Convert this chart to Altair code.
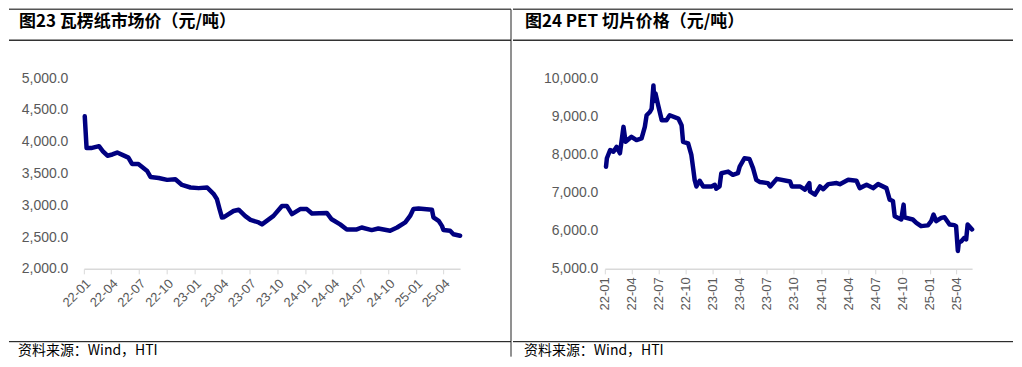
import altair as alt
import pandas as pd

# ---------------- data ----------------
paper_dates = [
    "2022-01-04", "2022-01-10", "2022-01-25", "2022-02-10", "2022-02-20", "2022-03-05",
    "2022-03-20", "2022-04-05", "2022-04-21", "2022-05-10", "2022-05-28", "2022-06-09",
    "2022-06-30", "2022-07-29", "2022-08-09", "2022-09-05", "2022-10-03", "2022-10-30",
    "2022-11-21", "2022-12-19", "2023-01-15", "2023-02-12", "2023-03-05", "2023-03-16",
    "2023-03-25", "2023-04-02", "2023-04-07", "2023-05-10", "2023-05-27", "2023-06-18",
    "2023-07-05", "2023-08-01", "2023-08-12", "2023-09-19", "2023-10-17", "2023-11-02",
    "2023-11-19", "2023-12-16", "2024-01-07", "2024-01-24", "2024-03-13", "2024-03-29",
    "2024-04-26", "2024-05-18", "2024-06-20", "2024-07-06", "2024-08-08", "2024-08-30",
    "2024-10-08", "2024-10-31", "2024-11-27", "2024-12-13", "2024-12-24", "2025-01-10",
    "2025-02-23", "2025-02-28", "2025-03-17", "2025-03-28", "2025-04-02", "2025-04-24",
    "2025-05-05", "2025-05-27",
]
paper_values = [
    4400, 3900, 3900, 3920, 3930, 3850,
    3780, 3800, 3830, 3790, 3750, 3650,
    3650, 3540, 3446, 3430, 3400, 3410,
    3320, 3280, 3270, 3280, 3180, 3100,
    2940, 2807, 2810, 2910, 2930, 2830,
    2770, 2730, 2700, 2833, 2990, 2990,
    2860, 2940, 2940, 2870, 2880, 2780,
    2700, 2620, 2620, 2650, 2610, 2635,
    2600, 2650, 2730, 2833, 2940, 2950,
    2930, 2810, 2755, 2676, 2610, 2600,
    2545, 2520,
]

pet_dates = [
    "2022-01-05", "2022-01-08", "2022-01-19", "2022-01-30", "2022-02-10", "2022-02-21",
    "2022-03-05", "2022-03-12", "2022-04-01", "2022-04-18", "2022-05-05", "2022-05-16",
    "2022-05-22", "2022-06-02", "2022-06-08", "2022-06-14", "2022-06-17", "2022-06-21",
    "2022-06-30", "2022-07-12", "2022-07-28", "2022-08-08", "2022-09-06", "2022-09-17",
    "2022-09-22", "2022-10-09", "2022-10-20", "2022-10-26", "2022-10-31", "2022-11-06",
    "2022-11-17", "2022-11-29", "2022-12-27", "2023-01-07", "2023-01-12", "2023-01-23",
    "2023-01-29", "2023-02-21", "2023-03-09", "2023-03-26", "2023-04-01", "2023-04-17",
    "2023-05-04", "2023-05-16", "2023-05-27", "2023-06-07", "2023-07-05", "2023-07-13",
    "2023-08-04", "2023-09-18", "2023-09-24", "2023-10-22", "2023-11-07", "2023-11-22",
    "2023-11-24", "2023-12-11", "2023-12-28", "2024-01-08", "2024-01-25", "2024-02-22",
    "2024-03-04", "2024-04-01", "2024-04-29", "2024-05-10", "2024-06-02", "2024-06-24",
    "2024-07-11", "2024-08-08", "2024-08-19", "2024-08-30", "2024-09-05", "2024-09-27",
    "2024-10-05", "2024-10-08", "2024-11-05", "2024-11-17", "2024-12-03", "2024-12-26",
    "2025-01-06", "2025-01-14", "2025-01-23", "2025-02-09", "2025-02-20", "2025-03-09",
    "2025-03-25", "2025-03-31", "2025-04-06", "2025-04-09", "2025-04-17", "2025-04-28",
    "2025-05-04", "2025-05-09", "2025-05-24",
]
pet_values = [
    7680, 7900, 8117, 8070, 8200, 8030,
    8724, 8333, 8463, 8377, 8420, 8724,
    9028, 9114, 9200, 9810, 9400, 9600,
    9290, 8900, 8900, 9028, 8940, 8767,
    8333, 8290, 7987, 7640, 7335, 7160,
    7310, 7160, 7160, 7205, 7100, 7160,
    7508, 7550, 7465, 7510, 7680, 7900,
    7880, 7640, 7335, 7280, 7248, 7160,
    7360, 7290, 7160, 7160, 7075, 7250,
    7030, 6945, 7160, 7090, 7222, 7250,
    7220, 7335, 7310, 7117, 7205, 7117,
    7222, 7117, 6815, 6780, 6380, 6294,
    6684, 6350, 6294, 6206, 6120, 6140,
    6250, 6424, 6250, 6336, 6354, 6163,
    6146, 6120, 5470, 5685, 5720, 5815,
    5770, 6163, 6034,
]

x_ticks = ["2022-01", "2022-04", "2022-07", "2022-10", "2023-01", "2023-04", "2023-07",
           "2023-10", "2024-01", "2024-04", "2024-07", "2024-10", "2025-01", "2025-04"]
paper_y_ticks = [2000, 2500, 3000, 3500, 4000, 4500, 5000]
pet_y_ticks = [5000, 6000, 7000, 8000, 9000, 10000]

title_left = "图23 瓦楞纸市场价（元/吨）"
title_right = "图24 PET 切片价格（元/吨）"
source_text = "资料来源：Wind，HTI"

# ---------------- helpers ----------------
def dt(s):
    parts = [int(p) for p in s.split("-")]
    if len(parts) == 2:
        parts.append(1)
    return alt.DateTime(year=parts[0], month=parts[1], date=parts[2])

tick_values = [dt(t) for t in x_ticks]

LINE_COLOR = "#000080"
LABEL_COLOR = "#595959"
AXIS_COLOR = "#d9d9d9"

deco_df = pd.DataFrame({"k": [0]})


def panel(dates, values, ydom, yticks, width, xdom_end, angle, lab_pad,
          left_off, right_off, title, divider, text_dx):
    df = pd.DataFrame({"date": pd.to_datetime(dates), "value": values})
    H = 191
    top_y = -69
    line = alt.Chart(df).mark_line(
        color=LINE_COLOR, strokeWidth=4.5, strokeJoin="round", strokeCap="round"
    ).encode(
        x=alt.X("date:T",
                scale=alt.Scale(domain=[dt("2022-01-01"), dt(xdom_end)]),
                axis=alt.Axis(values=tick_values, format="%y-%m", labelAngle=angle,
                              title=None, grid=False, domainColor=AXIS_COLOR,
                              domainWidth=1.5, tickColor=AXIS_COLOR, tickSize=5,
                              labelColor=LABEL_COLOR, labelFontSize=13,
                              labelFont="Liberation Sans", labelOverlap=False,
                              labelPadding=3)),
        y=alt.Y("value:Q",
                scale=alt.Scale(domain=ydom, nice=False, zero=False),
                axis=alt.Axis(values=yticks, format=",.1f", domain=False, ticks=False,
                              grid=False, labelPadding=lab_pad, title=None,
                              labelColor=LABEL_COLOR, labelFontSize=14,
                              labelFont="Liberation Sans")),
    )
    base = alt.Chart(deco_df)
    top_rule = base.mark_rule(color="#555555", strokeWidth=1.5).encode(
        x=alt.value(left_off), x2=alt.value(right_off), y=alt.value(top_y))
    sep_rule = base.mark_rule(color="#333333", strokeWidth=1.5).encode(
        x=alt.value(left_off), x2=alt.value(right_off), y=alt.value(-38))
    bot_rule = base.mark_rule(color="#000000", strokeWidth=1).encode(
        x=alt.value(left_off), x2=alt.value(right_off), y=alt.value(264))
    title_txt = base.mark_text(align="left", baseline="middle", font="Noto Sans CJK SC",
                               fontWeight="bold", fontSize=17, color="#000000").encode(
        x=alt.value(left_off + text_dx), y=alt.value(-56), text=alt.value(title))
    src_txt = base.mark_text(align="left", baseline="middle", font="Noto Sans CJK SC",
                             fontSize=14, color="#000000").encode(
        x=alt.value(left_off + text_dx - 1), y=alt.value(273), text=alt.value(source_text))
    layers = [line, top_rule, sep_rule, bot_rule, title_txt, src_txt]
    if divider:
        div_rule = base.mark_rule(color="#222222", strokeWidth=1).encode(
            x=alt.value(right_off), y=alt.value(top_y), y2=alt.value(279))
        layers.append(div_rule)
    return alt.layer(*layers).properties(width=width, height=H)


left = panel(paper_dates, paper_values, [2000, 5000], paper_y_ticks, 377, "2025-05-27",
             -45, 16, -75, 428, title_left, True, 10)
right = panel(pet_dates, pet_values, [5000, 10000], pet_y_ticks, 368, "2025-05-24",
              -90, 7, -92, 409, title_right, False, 12)

chart = alt.hconcat(left, right, spacing=0).properties(
    padding=0, background="white"
).configure_view(stroke=None)

chart.save("out.html", embed_options={"renderer": "svg", "actions": False})
